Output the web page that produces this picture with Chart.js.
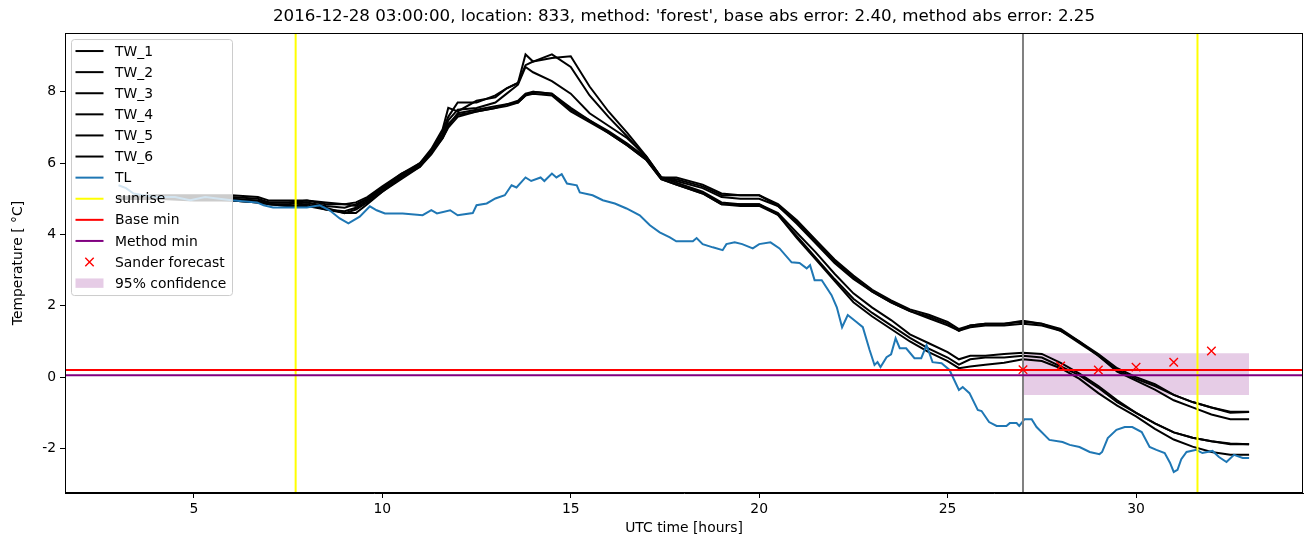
<!DOCTYPE html>
<html>
<head>
<meta charset="utf-8">
<title>TW / TL forecast</title>
<script src="https://cdn.jsdelivr.net/npm/chart.js@4.4.1/dist/chart.umd.min.js"></script>
<style>
  html, body { margin: 0; padding: 0; background: #fff; }
  canvas { display: block; }
</style>
</head>
<body>
<canvas id="chart" width="1313" height="547"></canvas>
<script>
// ---- data ----
const TITLE = "2016-12-28 03:00:00, location: 833, method: 'forest', base abs error: 2.40, method abs error: 2.25";

// road surface sensors TW_1..TW_6, shared hour grid
const twHours = [3, 4, 5, 6, 6.7, 7, 7.5, 8, 8.5, 9, 9.3, 9.6, 10, 10.5, 11, 11.3, 11.6, 11.75, 12, 12.5,
  13, 13.3, 13.6, 13.8, 14, 14.5, 15, 15.5, 16, 16.5, 17, 17.4, 17.8, 18.5, 19, 19.5, 20, 20.5, 21, 21.5,
  22, 22.5, 23, 23.5, 24, 24.5, 25, 25.3, 25.6, 26, 26.5, 27, 27.5, 28, 28.5, 29, 29.5, 30, 30.5, 31,
  31.5, 32, 32.5, 33];
const tw1 = [5.05, 5.05, 5.05, 5.05, 5.0, 4.9, 4.9, 4.95, 4.85, 4.85, 4.9, 5.05, 5.35, 5.7, 6.0, 6.4, 6.95, 7.55, 7.45, 7.75,
  7.85, 8.1, 8.25, 9.05, 8.85, 9.05, 8.7, 7.9, 7.3, 6.75, 6.15, 5.6, 5.6, 5.4, 5.15, 5.1, 5.1, 4.85, 4.4, 3.85,
  3.3, 2.85, 2.45, 2.15, 1.9, 1.75, 1.55, 1.35, 1.45, 1.5, 1.5, 1.58, 1.5, 1.35, 1.0, 0.65, 0.25, 0.0, -0.2, -0.5,
  -0.7, -0.85, -1.0, -0.98];
const tw2 = [5.05, 5.1, 5.1, 5.1, 5.05, 4.95, 4.95, 4.95, 4.9, 4.85, 4.8, 5.0, 5.3, 5.65, 6.0, 6.35, 6.9, 7.3, 7.7, 7.7,
  7.9, 8.1, 8.25, 8.75, 8.85, 8.95, 9.0, 8.15, 7.45, 6.85, 6.2, 5.6, 5.55, 5.35, 5.1, 5.1, 5.1, 4.8, 4.35, 3.8,
  3.25, 2.8, 2.4, 2.1, 1.85, 1.7, 1.5, 1.3, 1.45, 1.5, 1.5, 1.55, 1.5, 1.3, 1.0, 0.6, 0.2, -0.05, -0.25, -0.5,
  -0.7, -0.85, -0.97, -0.97];
const tw3 = [5.05, 5.05, 5.0, 5.0, 4.95, 4.85, 4.85, 4.9, 4.8, 4.75, 4.85, 5.0, 5.3, 5.7, 5.95, 6.35, 6.8, 7.2, 7.5, 7.55,
  7.7, 7.95, 8.2, 8.7, 8.55, 8.3, 7.95, 7.4, 7.05, 6.7, 6.2, 5.6, 5.5, 5.3, 5.05, 5.0, 5.0, 4.8, 4.3, 3.75,
  3.2, 2.75, 2.4, 2.1, 1.85, 1.65, 1.45, 1.3, 1.4, 1.45, 1.45, 1.5, 1.45, 1.3, 0.95, 0.6, 0.15, -0.1, -0.35, -0.65,
  -0.85, -1.05, -1.18, -1.18];
const tw4 = [5.0, 5.0, 5.0, 4.95, 4.9, 4.85, 4.8, 4.85, 4.7, 4.65, 4.75, 4.95, 5.25, 5.6, 5.95, 6.3, 6.8, 7.1, 7.35, 7.45,
  7.55, 7.65, 7.75, 7.95, 8.0, 7.95, 7.55, 7.2, 6.9, 6.55, 6.15, 5.6, 5.45, 5.2, 4.9, 4.85, 4.85, 4.6, 4.05, 3.5,
  2.9, 2.35, 1.95, 1.6, 1.2, 0.95, 0.7, 0.5, 0.6, 0.6, 0.65, 0.68, 0.65, 0.4, 0.1, -0.25, -0.65, -1.0, -1.3, -1.55,
  -1.7, -1.8, -1.88, -1.88];
const tw5 = [5.0, 5.0, 5.0, 5.0, 4.95, 4.9, 4.9, 4.9, 4.75, 4.6, 4.7, 4.9, 5.2, 5.6, 5.9, 6.3, 6.7, 7.05, 7.4, 7.5,
  7.6, 7.65, 7.7, 7.9, 8.0, 7.95, 7.5, 7.2, 6.85, 6.5, 6.1, 5.55, 5.4, 5.15, 4.85, 4.85, 4.85, 4.55, 3.95, 3.35,
  2.75, 2.2, 1.8, 1.45, 1.1, 0.8, 0.55, 0.35, 0.5, 0.55, 0.55, 0.6, 0.55, 0.3, 0.05, -0.3, -0.7, -1.0, -1.3, -1.55,
  -1.7, -1.8, -1.86, -1.88];
const tw6 = [5.0, 5.0, 4.95, 4.95, 4.9, 4.85, 4.8, 4.8, 4.7, 4.6, 4.6, 4.85, 5.2, 5.55, 5.9, 6.25, 6.7, 7.0, 7.3, 7.45,
  7.55, 7.6, 7.7, 7.9, 7.95, 7.9, 7.45, 7.15, 6.85, 6.5, 6.1, 5.55, 5.4, 5.15, 4.85, 4.8, 4.8, 4.55, 3.9, 3.3,
  2.7, 2.1, 1.7, 1.35, 1.0, 0.7, 0.45, 0.25, 0.3, 0.35, 0.4, 0.5, 0.45, 0.25, -0.05, -0.45, -0.8, -1.1, -1.45, -1.75,
  -1.95, -2.1, -2.18, -2.18];

// air temperature TL
const tlHours = [3.0, 3.2, 3.4, 3.65, 4.0, 4.5, 4.9, 5.3, 6.0, 6.67, 6.85, 7.1, 8.0, 8.34, 8.6, 8.87, 9.1, 9.4, 9.67, 9.85,
  10.07, 10.54, 11.07, 11.3, 11.45, 11.8, 12.0, 12.4, 12.5, 12.77, 13.0, 13.25, 13.43, 13.56, 13.8, 13.95, 14.2, 14.3, 14.5, 14.62,
  14.76, 14.9, 15.16, 15.24, 15.58, 15.85, 16.17, 16.48, 16.83, 17.1, 17.36, 17.63, 17.8, 18.24, 18.34, 18.5, 18.77, 19.03, 19.13, 19.35,
  19.55, 19.83, 20.0, 20.3, 20.54, 20.86, 21.07, 21.26, 21.35, 21.47, 21.66, 21.92, 22.06, 22.2, 22.35, 22.59, 22.75, 22.93, 23.06, 23.14,
  23.22, 23.38, 23.5, 23.62, 23.73, 23.9, 24.12, 24.3, 24.44, 24.6, 24.84, 25.05, 25.3, 25.4, 25.58, 25.8, 25.9, 26.1, 26.3, 26.56,
  26.65, 26.83, 26.9, 27.04, 27.23, 27.36, 27.7, 28.05, 28.24, 28.5, 28.77, 29.03, 29.1, 29.25, 29.48, 29.7, 29.9, 30.15, 30.36, 30.54,
  30.76, 30.9, 31.0, 31.1, 31.2, 31.34, 31.6, 31.76, 32.03, 32.2, 32.4, 32.6, 32.83, 33.0];
const tlValues = [5.38, 5.3, 5.15, 5.1, 5.05, 5.05, 4.96, 5.05, 4.96, 4.9, 4.82, 4.76, 4.76, 4.82, 4.68, 4.45, 4.31, 4.5, 4.79, 4.68,
  4.59, 4.59, 4.54, 4.68, 4.59, 4.68, 4.54, 4.6, 4.82, 4.87, 5.01, 5.1, 5.38, 5.32, 5.6, 5.5, 5.6, 5.5, 5.71, 5.6,
  5.69, 5.43, 5.38, 5.18, 5.1, 4.96, 4.87, 4.73, 4.54, 4.26, 4.06, 3.92, 3.81, 3.81, 3.9, 3.73, 3.64, 3.56, 3.73, 3.78,
  3.73, 3.61, 3.73, 3.78, 3.61, 3.22, 3.2, 3.05, 3.14, 2.72, 2.72, 2.3, 1.96, 1.4, 1.74, 1.54, 1.4, 0.76, 0.34, 0.42,
  0.28, 0.56, 0.64, 1.09, 0.81, 0.81, 0.53, 0.53, 0.9, 0.42, 0.39, 0.2, -0.36, -0.28, -0.45, -0.92, -0.95, -1.26, -1.37, -1.37,
  -1.29, -1.29, -1.37, -1.18, -1.18, -1.4, -1.76, -1.82, -1.9, -1.96, -2.1, -2.16, -2.1, -1.71, -1.48, -1.4, -1.4, -1.54, -1.96, -2.04,
  -2.13, -2.4, -2.66, -2.6, -2.3, -2.1, -2.04, -2.13, -2.07, -2.24, -2.38, -2.18, -2.27, -2.27];

const sunriseHours = [7.7, 31.63];
const forecastHour = 27;
const baseMin = 0.2;
const methodMin = 0.05;
const sanderHours = [27, 28, 29, 30, 31, 32];
const sanderValues = [0.21, 0.31, 0.2, 0.28, 0.42, 0.73];
const confHours = [27, 33];
const confUpper = [0.67, 0.67];
const confLower = [-0.5, -0.5];

const xTicks = [5, 10, 15, 20, 25, 30];
const yTicks = [-2, 0, 2, 4, 6, 8];
const X_MIN = 1.58, X_MAX = 34.43;
const Y_MIN = -3.25, Y_MAX = 9.65;

// ---- styling ----
const FONT = "'DejaVu Sans', Verdana, sans-serif";
const TL_BLUE = "#1f77b4";
const BAND = "rgba(128,0,128,0.2)";

const pts = (xs, ys) => xs.map((x, i) => ({ x, y: ys[i] }));
const vline = x => [{ x, y: Y_MIN - 1 }, { x, y: Y_MAX + 1 }];
const hline = y => [{ x: X_MIN - 1, y }, { x: X_MAX + 1, y }];

function lineSet(label, data, color) {
  return { label, data, borderColor: color, backgroundColor: color, borderWidth: 2,
    pointRadius: 0, tension: 0, fill: false };
}

const twSeries = [tw1, tw2, tw3, tw4, tw5, tw6];

// first dataset is drawn on top
const datasets = [
  { label: "Sander forecast", data: pts(sanderHours, sanderValues), showLine: false,
    pointStyle: "crossRot", pointRadius: 6, borderColor: "red", backgroundColor: "red", pointBorderWidth: 1.4 },
  lineSet("Method min", hline(methodMin), "purple"),
  lineSet("Base min", hline(baseMin), "red"),
  ...sunriseHours.map(h => lineSet("sunrise", vline(h), "yellow")),
  lineSet("forecast time", vline(forecastHour), "gray"),
  lineSet("TL", pts(tlHours, tlValues), TL_BLUE),
  ...twSeries.map((s, i) => lineSet("TW_" + (i + 1), pts(twHours, s), "black")).reverse(),
  { label: "95% confidence", data: pts(confHours, confUpper), borderWidth: 0, pointRadius: 0,
    backgroundColor: BAND, fill: "+1" },
  { label: "conf low", data: pts(confHours, confLower), borderWidth: 0, pointRadius: 0, fill: false }
];

const legendItems = [
  ...twSeries.map((s, i) => ({ label: "TW_" + (i + 1), kind: "line", color: "black" })),
  { label: "TL", kind: "line", color: TL_BLUE },
  { label: "sunrise", kind: "line", color: "yellow" },
  { label: "Base min", kind: "line", color: "red" },
  { label: "Method min", kind: "line", color: "purple" },
  { label: "Sander forecast", kind: "cross", color: "red" },
  { label: "95% confidence", kind: "patch", color: BAND }
];

// matplotlib style legend box in the upper left of the axes
const legendBox = {
  id: "legendBox",
  afterDraw(chart) {
    const { ctx, chartArea } = chart;
    const x0 = chartArea.left + 6.5, y0 = chartArea.top + 6.5;
    const w = 161, h = 256, rowH = 21.1;
    ctx.save();
    ctx.fillStyle = "rgba(255,255,255,0.8)";
    ctx.strokeStyle = "#cccccc";
    ctx.lineWidth = 1;
    ctx.beginPath();
    ctx.roundRect(x0, y0, w, h, 3);
    ctx.fill();
    ctx.stroke();
    ctx.font = "13.9px " + FONT;
    ctx.textBaseline = "middle";
    legendItems.forEach((item, i) => {
      const cy = y0 + 11.5 + i * rowH;
      const hx = x0 + 4, hw = 28;
      if (item.kind === "line") {
        ctx.strokeStyle = item.color;
        ctx.lineWidth = 2;
        ctx.beginPath();
        ctx.moveTo(hx, cy);
        ctx.lineTo(hx + hw, cy);
        ctx.stroke();
      } else if (item.kind === "cross") {
        const cx = hx + hw / 2, r = 4.2;
        ctx.strokeStyle = item.color;
        ctx.lineWidth = 1.4;
        ctx.beginPath();
        ctx.moveTo(cx - r, cy - r); ctx.lineTo(cx + r, cy + r);
        ctx.moveTo(cx - r, cy + r); ctx.lineTo(cx + r, cy - r);
        ctx.stroke();
      } else {
        ctx.fillStyle = item.color;
        ctx.fillRect(hx, cy - 4.7, hw, 9.4);
      }
      ctx.fillStyle = "#000";
      ctx.fillText(item.label, x0 + 43.5, cy + 1);
    });
    ctx.restore();
  }
};

// top and right spines
const frame = {
  id: "frame",
  afterDatasetsDraw(chart) {
    const { ctx, chartArea: a } = chart;
    ctx.save();
    ctx.strokeStyle = "#000";
    ctx.lineWidth = 1;
    ctx.strokeRect(Math.round(a.left) + 0.5, Math.round(a.top) + 0.5,
      Math.round(a.right - a.left) - 1, Math.round(a.bottom - a.top) - 1);
    ctx.restore();
  }
};

const tickFont = { family: FONT, size: 13.9 };

new Chart(document.getElementById("chart"), {
  type: "line",
  data: { datasets },
  plugins: [legendBox, frame],
  options: {
    responsive: false,
    animation: false,
    events: [],
    layout: { padding: { left: 0, right: 10, top: 0, bottom: 0 } },
    plugins: {
      legend: { display: false },
      tooltip: { enabled: false },
      title: {
        display: true, text: TITLE, fullSize: false, color: "#000",
        font: { family: FONT, size: 16.7, weight: "normal" },
        padding: { top: 7, bottom: 6 }
      }
    },
    scales: {
      x: {
        type: "linear", min: X_MIN, max: X_MAX,
        afterBuildTicks: axis => { axis.ticks = xTicks.map(v => ({ value: v })); },
        afterFit: scale => { scale.height = 54; },
        ticks: { color: "#000", font: tickFont, padding: 3, maxRotation: 0 },
        grid: { drawOnChartArea: false, drawTicks: true, tickLength: 5, color: "#000" },
        border: { display: true, color: "#000", width: 1 },
        title: { display: true, text: "UTC time [hours]", color: "#000", font: tickFont,
          padding: { top: 0, bottom: 10 } }
      },
      y: {
        type: "linear", min: Y_MIN, max: Y_MAX,
        afterBuildTicks: axis => { axis.ticks = yTicks.map(v => ({ value: v })); },
        afterFit: scale => { scale.width = 65; },
        ticks: { color: "#000", font: tickFont, padding: 4 },
        grid: { drawOnChartArea: false, drawTicks: true, tickLength: 5, color: "#000" },
        border: { display: true, color: "#000", width: 1 },
        title: { display: true, text: "Temperature [ °C]", color: "#000", font: tickFont,
          padding: { top: 10, bottom: 0 } }
      }
    }
  }
});
</script>
</body>
</html>
